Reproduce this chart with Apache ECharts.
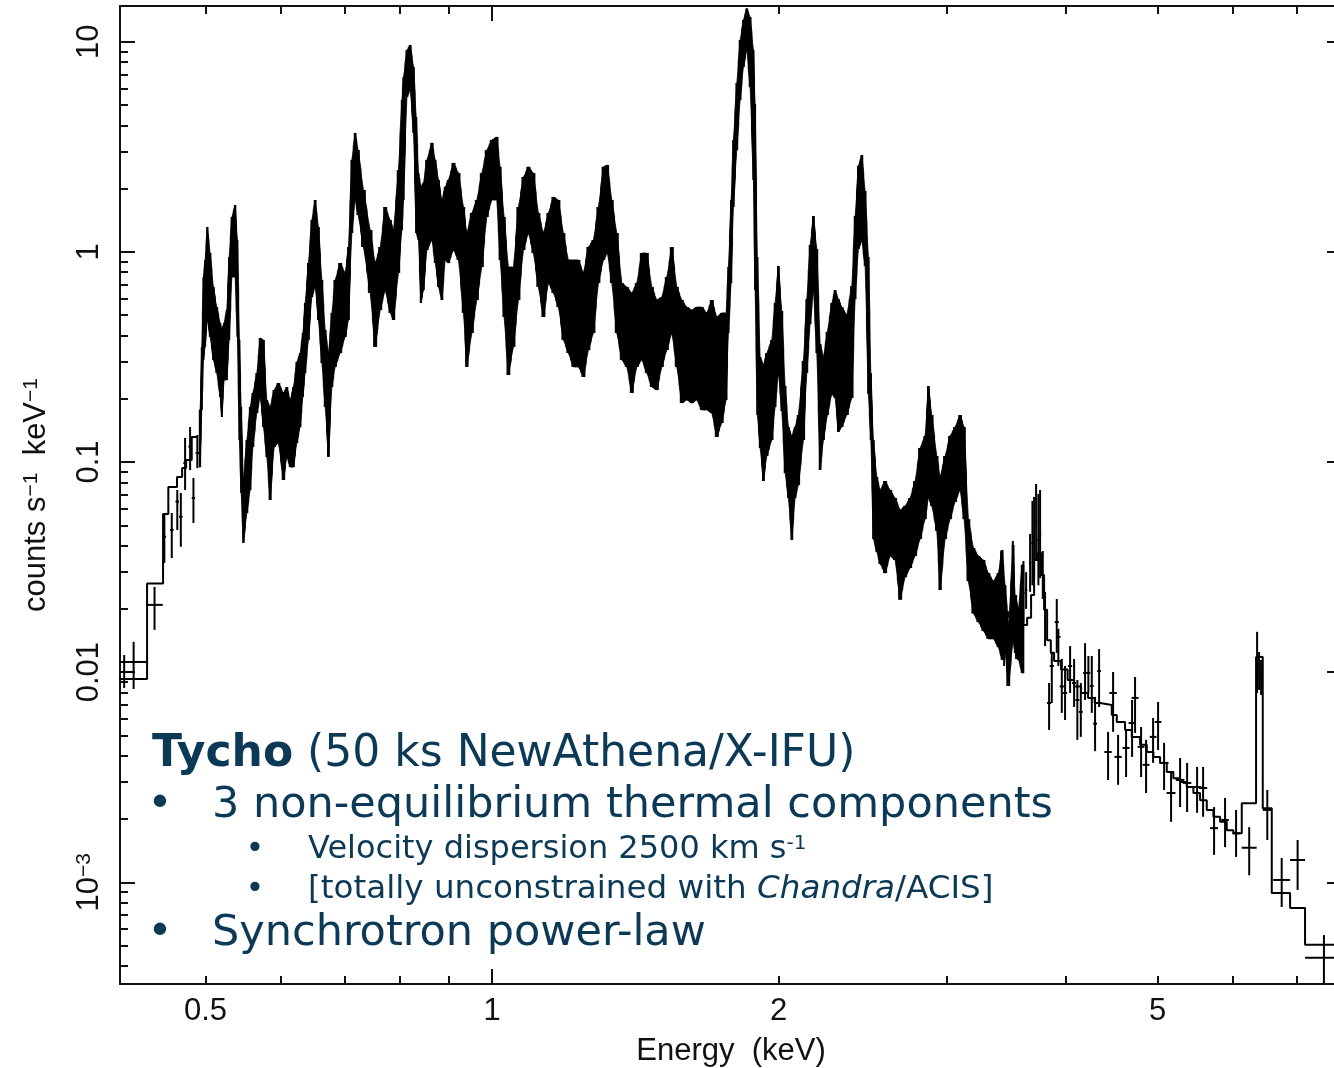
<!DOCTYPE html>
<html>
<head>
<meta charset="utf-8">
<script src="https://cdn.jsdelivr.net/npm/echarts@6/dist/echarts.min.js"></script>
<style>
  html, body { margin: 0; padding: 0; background: #ffffff; }
  #chart { width: 1334px; height: 1068px; }
</style>
</head>
<body>
<div id="chart"></div>
<script>
// ---- Axis ranges and tick marks ----
const energyRange = [0.40658, 7.81];          // keV
const countRange = [3.281e-4, 14.79];          // counts s^-1 keV^-1
const energyMajorTicks = [1];
const energyMinorTicks = [0.5, 0.6, 0.7, 0.8, 0.9, 2, 3, 4, 5, 6, 7];
const energyLabels = [0.5, 1, 2, 5];
const countDecades = [0.001, 0.01, 0.1, 1, 10];
const countMinorTicks = [
  0.0004, 0.0005, 0.0006, 0.0007, 0.0008, 0.0009,
  0.002, 0.003, 0.004, 0.005, 0.006, 0.007, 0.008, 0.009,
  0.02, 0.03, 0.04, 0.05, 0.06, 0.07, 0.08, 0.09,
  0.2, 0.3, 0.4, 0.5, 0.6, 0.7, 0.8, 0.9,
  2, 3, 4, 5, 6, 7, 8, 9
];

// ---- Densely binned spectrum: per-bin lower / upper error limits ----
const bandE = [
  0.4935, 0.4955, 0.4975, 0.4995, 0.5022, 0.5056, 0.5096, 0.5138, 0.518, 0.5201,
  0.523, 0.5264, 0.5294, 0.5329, 0.5371, 0.5401, 0.5427, 0.545, 0.548, 0.5526,
  0.557, 0.5607, 0.5661, 0.5706, 0.5752, 0.5799, 0.5846, 0.5903, 0.5964, 0.6037,
  0.6087, 0.6136, 0.6185, 0.6236, 0.6286, 0.6327, 0.6362, 0.6413, 0.6466, 0.6518,
  0.657, 0.6625, 0.6678, 0.6731, 0.6787, 0.6841, 0.6925, 0.7009, 0.7065, 0.7123,
  0.718, 0.7232, 0.7326, 0.7446, 0.7536, 0.7629, 0.7721, 0.7815, 0.7878, 0.7973,
  0.804, 0.8071, 0.8138, 0.8203, 0.8269, 0.8323, 0.8369, 0.8418, 0.8471, 0.8541,
  0.8645, 0.8714, 0.8784, 0.8856, 0.8927, 0.8998, 0.9108, 0.9219, 0.933, 0.9407,
  0.9521, 0.9637, 0.9754, 0.9872, 0.9993, 1.0114, 1.0195, 1.0294, 1.0401, 1.0529,
  1.0656, 1.0787, 1.0917, 1.105, 1.1183, 1.1321, 1.1458, 1.1598, 1.1738, 1.1881,
  1.2025, 1.2173, 1.232, 1.2471, 1.2622, 1.2776, 1.2931, 1.3089, 1.3215, 1.3357,
  1.3519, 1.3684, 1.385, 1.4019, 1.419, 1.4363, 1.4537, 1.4714, 1.4893, 1.5074,
  1.5257, 1.5443, 1.5631, 1.5821, 1.6013, 1.6208, 1.6405, 1.6605, 1.6807, 1.7011,
  1.7218, 1.7428, 1.761, 1.7708, 1.7825, 1.7924, 1.8072, 1.8217, 1.8363, 1.8514,
  1.8663, 1.8812, 1.8889, 1.8993, 1.912, 1.9273, 1.9432, 1.9668, 1.9825, 1.9984,
  2.015, 2.0311, 2.0473, 2.0643, 2.0808, 2.0974, 2.123, 2.1405, 2.1578, 2.1751,
  2.193, 2.2106, 2.2283, 2.2497, 2.274, 2.2921, 2.3104, 2.3297, 2.358, 2.3867,
  2.4058, 2.425, 2.4452, 2.4647, 2.4844, 2.499, 2.5148, 2.5355, 2.5558, 2.5867,
  2.6184, 2.65, 2.6825, 2.715, 2.7481, 2.7814, 2.8154, 2.8495, 2.8723, 2.8961,
  2.9313, 2.9549, 2.9907, 3.0272, 3.0638, 3.1013, 3.1314, 3.1639, 3.2027, 3.2415,
  3.2811, 3.3208, 3.3614, 3.4021, 3.433, 3.4577, 3.4867, 3.5254, 3.5423, 3.572,
  3.6032
];
const bandHi = [
  0.1768, 0.353, 0.759, 0.915, 1.313, 0.987, 0.681, 0.546, 0.459, 0.425,
  0.459, 0.529, 0.945, 1.465, 1.671, 1.139, 0.381, 0.1827, 0.0821, 0.1273,
  0.1827, 0.2131, 0.265, 0.389, 0.381, 0.1973, 0.1827, 0.2202, 0.2377, 0.2131,
  0.2274, 0.1973, 0.2274, 0.2994, 0.330, 0.411, 0.571, 0.885, 1.418, 1.765,
  1.313, 0.735, 0.425, 0.330, 0.512, 0.735, 0.885, 0.794, 1.055, 2.74,
  3.68, 3.05, 1.97, 1.27, 0.885, 1.055, 1.635, 1.418, 1.27, 2.45,
  5.28, 6.79, 9.13, 9.65, 7.58, 4.38, 2.37, 2.04, 2.13, 2.74,
  3.30, 2.74, 2.20, 1.765, 2.04, 2.20, 2.65, 2.37, 1.635, 1.229,
  1.531, 1.765, 2.37, 3.05, 3.41, 3.52, 2.54, 1.465, 0.847, 0.847,
  1.635, 2.27, 2.54, 2.37, 1.531, 1.229, 1.531, 1.824, 1.765, 1.229,
  0.915, 0.915, 0.915, 0.794, 1.055, 1.139, 1.635, 2.54, 2.59, 1.765,
  1.229, 0.711, 0.681, 0.637, 0.711, 0.987, 0.987, 0.681, 0.590, 0.609,
  0.759, 1.055, 0.681, 0.590, 0.546, 0.529, 0.546, 0.546, 0.512, 0.590,
  0.490, 0.512, 0.512, 0.847, 1.765, 3.41, 6.36, 10.19, 12.69, 14.4,
  13.1, 9.13, 5.05, 0.945, 0.316, 0.290, 0.330, 0.381, 0.571, 0.857,
  0.523, 0.230, 0.1468, 0.1331, 0.1468, 0.1674, 0.3027, 0.596, 1.078, 1.481,
  1.032, 0.3647, 0.316, 0.416, 0.571, 0.658, 0.596, 0.546, 0.501, 0.688,
  1.481, 2.565, 2.887, 1.949, 0.945, 0.265, 0.1273, 0.0848, 0.0736, 0.0812,
  0.0736, 0.0674, 0.0591, 0.0618, 0.0674, 0.0812, 0.1166, 0.1331, 0.230, 0.1674,
  0.1068, 0.0848, 0.1068, 0.1331, 0.1468, 0.1674, 0.1468, 0.0535, 0.0390, 0.0357,
  0.0342, 0.0296, 0.0271, 0.0296, 0.0381, 0.0259, 0.01676, 0.0403, 0.0233, 0.0200,
  0.0324
];
const bandLo = [
  0.0946, 0.1768, 0.306, 0.353, 0.474, 0.394, 0.306, 0.265, 0.204, 0.1637,
  0.2456, 0.2456, 0.381, 0.759, 0.759, 0.394, 0.1273, 0.0712, 0.0412, 0.0572,
  0.0736, 0.1179, 0.1711, 0.204, 0.1468, 0.1057, 0.066, 0.1179, 0.1232, 0.0821,
  0.1057, 0.0946, 0.0946, 0.1232, 0.1468, 0.204, 0.265, 0.381, 0.609, 0.681,
  0.474, 0.296, 0.1827, 0.1057, 0.2274, 0.2834, 0.330, 0.394, 0.474, 1.229,
  1.765, 1.498, 1.055, 0.637, 0.353, 0.529, 0.658, 0.512, 0.474, 0.794,
  1.27, 1.765, 5.45, 5.89, 3.68, 1.229, 1.139, 0.571, 0.658, 1.02,
  1.139, 0.885, 0.681, 0.590, 0.915, 0.885, 1.02, 0.915, 0.512, 0.2834,
  0.411, 0.590, 0.847, 1.465, 1.765, 1.765, 0.915, 0.490, 0.2594, 0.353,
  0.590, 1.02, 1.229, 0.987, 0.681, 0.490, 0.711, 0.637, 0.546, 0.381,
  0.330, 0.2834, 0.2834, 0.2538, 0.341, 0.411, 0.711, 0.915, 0.987, 0.711,
  0.411, 0.306, 0.2834, 0.2131, 0.2834, 0.306, 0.265, 0.2274, 0.2202, 0.2834,
  0.341, 0.411, 0.2834, 0.1909, 0.1973, 0.1909, 0.1973, 0.1768, 0.1768, 0.1711,
  0.1316, 0.1534, 0.1973, 0.411, 0.711, 1.635, 3.05, 5.28, 7.58, 9.13,
  6.08, 2.20, 0.658, 0.1674, 0.1166, 0.0812, 0.1068, 0.1273, 0.1827, 0.265,
  0.1749, 0.0886, 0.0674, 0.0426, 0.0674, 0.0777, 0.1273, 0.265, 0.454, 0.658,
  0.330, 0.0916, 0.1273, 0.1674, 0.2108, 0.2017, 0.139, 0.1468, 0.1674, 0.2017,
  0.596, 1.032, 1.127, 0.857, 0.2108, 0.1273, 0.0430, 0.0373, 0.0327, 0.0296,
  0.0357, 0.0342, 0.0221, 0.0283, 0.0313, 0.0357, 0.0430, 0.0535, 0.0674, 0.0618,
  0.0470, 0.0246, 0.0430, 0.0535, 0.0646, 0.0736, 0.0535, 0.0271, 0.0190, 0.0173,
  0.0157, 0.0144, 0.0144, 0.01315, 0.01143, 0.01234, 0.0086, 0.0142, 0.01234, 0.01143,
  0.00991
];

// ---- Individually resolved bins: centre, full bin width, value, error range ----
const crossE = [
  0.4107, 0.4202, 0.4420, 0.4526, 0.4608, 0.4670, 0.4710, 0.4759, 0.4817, 0.4856, 0.4902,
  3.4245, 3.4494, 3.4768, 3.5227, 3.551, 3.579, 3.6143, 3.638, 3.6733,
  3.694, 3.709, 3.727, 3.7475, 3.7632, 3.7877, 3.8087,
  3.846, 3.8711, 3.918, 3.9332, 3.9659, 3.9975, 4.0464, 4.0857, 4.118, 4.1525,
  4.1956, 4.2291, 4.2643, 4.2983, 4.3403,
  4.4357, 4.4898, 4.5443, 4.633, 4.7008, 4.7348, 4.8043, 4.8627, 4.9458, 5.0058,
  5.079, 5.1657, 5.2795, 5.3698, 5.5012, 5.5815, 5.7318, 5.8861, 6.045,
  6.24, 6.3602, 6.391, 6.4218, 6.519, 6.75, 7.015, 7.476
];
const crossW = [
  0.0217, 0.0272, 0.0177, 0.004, 0.004, 0.004, 0.004, 0.004, 0.004, 0.004, 0.004,
  0.02, 0.02, 0.02, 0.02, 0.02, 0.02, 0.02, 0.02, 0.02,
  0.02, 0.02, 0.02, 0.02, 0.02, 0.02, 0.02,
  0.04, 0.04, 0.04, 0.04, 0.04, 0.04, 0.04, 0.04, 0.04, 0.04,
  0.04, 0.04, 0.04, 0.04, 0.04,
  0.08, 0.08, 0.08, 0.08, 0.08, 0.08, 0.08, 0.08, 0.08, 0.08,
  0.11, 0.11, 0.11, 0.11, 0.11, 0.11, 0.11, 0.11, 0.11,
  0.226, 0.02, 0.02, 0.02, 0.142, 0.277, 0.254, 0.668
];
const crossV = [
  0.01002, 0.01118, 0.0209, 0.0441, 0.0475, 0.0648, 0.0549, 0.0989, 0.1183, 0.0674, 0.1104,
  0.0216, 0.0160, 0.0113, 0.02566, 0.01639, 0.01556, 0.0238, 0.0246, 0.0331,
  0.0412, 0.0440, 0.0519, 0.0426, 0.0455, 0.0290, 0.0179,
  0.00713, 0.0107, 0.0173, 0.01472, 0.00855, 0.00796, 0.0107, 0.00888, 0.00737, 0.00647,
  0.00991, 0.00991, 0.0086, 0.00569, 0.01013,
  0.00417, 0.00796, 0.00395, 0.00436, 0.00573, 0.00754, 0.00441, 0.00362, 0.00492, 0.00579,
  0.0037, 0.00266, 0.00307, 0.00297, 0.00284, 0.00281, 0.00181, 0.00198, 0.00171,
  0.00146, 0.01168, 0.01047, 0.00969, 0.00221, 0.001026, 0.001277, 0.000437
];
const crossLo = [
  0.00841, 0.00832, 0.0159, 0.0331, 0.0349, 0.0475, 0.0395, 0.0736, 0.0916, 0.0513, 0.0936,
  0.01234, 0.0107, 0.0086, 0.01556, 0.01155, 0.01234, 0.01657, 0.0200, 0.0241,
  0.0259, 0.0280, 0.0338, 0.0259, 0.0280, 0.0223, 0.0133,
  0.00531, 0.00713, 0.01234, 0.0107, 0.0064, 0.00592, 0.00796, 0.00683, 0.00476, 0.00492,
  0.00737, 0.00796, 0.0064, 0.00421, 0.00683,
  0.00307, 0.0052, 0.00291, 0.00317, 0.00395, 0.00514, 0.00317, 0.00266, 0.0037, 0.00426,
  0.00275, 0.00194, 0.00228, 0.00216, 0.00214, 0.00205, 0.00135, 0.00147, 0.00132,
  0.00108, 0.00796, 0.00823, 0.00779, 0.00159, 0.000763, 0.00092, 0.00033
];
const crossHi = [
  0.01207, 0.01394, 0.02546, 0.0572, 0.0572, 0.0736, 0.0712, 0.1302, 0.1468, 0.0839, 0.1345,
  0.0377, 0.0241, 0.01489, 0.0421, 0.0233, 0.01937, 0.0338, 0.0299, 0.0455,
  0.0653, 0.0682, 0.0786, 0.0704, 0.0736, 0.0377, 0.0241,
  0.00888, 0.01234, 0.0223, 0.0161, 0.01155, 0.0107, 0.0133, 0.01155, 0.00918, 0.00888,
  0.01374, 0.01194, 0.01194, 0.00762, 0.01287,
  0.0052, 0.01002, 0.00503, 0.00531, 0.00737, 0.00948, 0.00548, 0.00476, 0.00605, 0.00721,
  0.00461, 0.00331, 0.0039, 0.0037, 0.00354, 0.00354, 0.00228, 0.00252, 0.00221,
  0.00183, 0.01556, 0.01247, 0.01143, 0.00275, 0.001305, 0.00159, 0.000561
];

// ---- Folded model (histogram: lower bin edge, model value) ----
const modelLowE = [0.40, 0.4341, 0.4512, 0.457, 0.4667, 0.4725, 0.4771, 0.4836, 0.4896];
const modelLowV = [0.00928, 0.02643, 0.0566, 0.0760, 0.0848, 0.0936, 0.1022, 0.1316, 0.1316];
const modelHighE = [
  3.4021, 3.483, 3.5681, 3.647, 3.6821, 3.709, 3.745, 3.7722, 3.7997, 3.8276,
  3.8619, 3.8927, 3.9592, 4.0224, 4.0857, 4.1553, 4.2262, 4.2945, 4.3508, 4.4756,
  4.53, 4.6217, 4.6974, 4.7927, 4.8708, 4.9493, 5.0302, 5.1122, 5.1945, 5.2795,
  5.3656, 5.452, 5.5411, 5.6314, 5.7221, 5.8157, 5.9105, 6.0057, 6.1289, 6.3446,
  6.4479, 6.59, 6.8884, 7.1424, 8.0
];
const modelHighV = [
  0.0194, 0.01834, 0.01676, 0.01814, 0.0233, 0.0342, 0.0369, 0.029, 0.0198, 0.0142,
  0.01238, 0.0113, 0.01029, 0.00918, 0.00855, 0.00796, 0.00754, 0.00713, 0.00698, 0.00626,
  0.00579, 0.00531, 0.00492, 0.00451, 0.00417, 0.00395, 0.0037, 0.00335, 0.00313, 0.003,
  0.00284, 0.00266, 0.00246, 0.00221, 0.00205, 0.00194, 0.00177, 0.00171, 0.00238, 0.01181,
  0.00225, 0.00089, 0.000755, 0.000504, 0.000504
];

// ---- Styling ----
const noteColor = '#0c3a56';
const noteFont = 'DejaVu Sans';
const axisFont = 'Liberation Sans';
const ink = '#111111';

const chart = echarts.init(document.getElementById('chart'), null, { renderer: 'canvas' });

function energyAxis(position, ticks, tickLen, withLine, withLabels) {
  return {
    type: 'log', logBase: 10, position: position,
    min: energyRange[0], max: energyRange[1],
    axisLine: { show: withLine, onZero: false, lineStyle: { color: ink, width: 2 } },
    axisTick: { show: true, inside: true, length: tickLen, customValues: ticks,
                lineStyle: { color: ink, width: 2 } },
    axisLabel: withLabels ? {
      show: true, customValues: energyLabels, margin: 12,
      fontFamily: axisFont, fontSize: 31, color: ink,
      formatter: function (v) { return String(+v.toPrecision(3)); }
    } : { show: false },
    splitLine: { show: false }, minorTick: { show: false }
  };
}

function countAxis(position, ticks, tickLen, withLine, withLabels) {
  return {
    type: 'log', logBase: 10, position: position,
    min: countRange[0], max: countRange[1],
    axisLine: { show: withLine, onZero: false, lineStyle: { color: ink, width: 2 } },
    axisTick: { show: true, inside: true, length: tickLen, customValues: ticks,
                lineStyle: { color: ink, width: 2 } },
    axisLabel: withLabels ? {
      show: true, customValues: countDecades, margin: 15, rotate: 90,
      align: 'center', verticalAlign: 'bottom',
      fontFamily: axisFont, fontSize: 31, color: ink,
      formatter: function (v) {
        if (Math.abs(v - 0.001) < 1e-9) return '10{s|\u22123}';
        return String(+v.toPrecision(3));
      },
      rich: { s: { fontFamily: axisFont, fontSize: 21, color: ink, verticalAlign: 'top' } }
    } : { show: false },
    splitLine: { show: false }, minorTick: { show: false }
  };
}

const xAxes = [
  energyAxis('bottom', energyMajorTicks, 15, true, true),
  energyAxis('bottom', energyMinorTicks, 8, false, false),
  energyAxis('top', energyMajorTicks, 15, true, false),
  energyAxis('top', energyMinorTicks, 8, false, false)
];
xAxes[0].name = 'Energy  (keV)';
xAxes[0].nameLocation = 'middle';
xAxes[0].nameGap = 52;
xAxes[0].nameTextStyle = { fontFamily: axisFont, fontSize: 31, color: ink };

const yAxes = [
  countAxis('left', countDecades, 15, true, true),
  countAxis('left', countMinorTicks, 8, false, false),
  countAxis('right', countDecades, 15, true, false),
  countAxis('right', countMinorTicks, 8, false, false)
];
yAxes[0].name = 'counts s{s|\u22121}  keV{s|\u22121}';
yAxes[0].nameLocation = 'middle';
yAxes[0].nameRotate = 90;
yAxes[0].nameGap = 68;
yAxes[0].nameTextStyle = {
  fontFamily: axisFont, fontSize: 31, color: ink,
  rich: { s: { fontFamily: axisFont, fontSize: 21, color: ink, verticalAlign: 'top' } }
};

// filled error band: each bin is drawn as its own error bar plus a joint
// to the neighbouring bins so the dense band has no holes
function renderBand(params, api) {
  const i = params.dataIndex;
  const n = bandE.length;
  const pt = (k) => {
    const t = api.coord([bandE[k], bandHi[k]]);
    const b = api.coord([bandE[k], bandLo[k]]);
    return { x: t[0], t: t[1], b: b[1] };
  };
  const c = pt(i);
  const p = i > 0 ? pt(i - 1) : null;
  const q = i < n - 1 ? pt(i + 1) : null;
  const xl = p ? (p.x + c.x) / 2 - 0.3 : c.x - (q.x - c.x) / 2;
  const xr = q ? (q.x + c.x) / 2 + 0.3 : c.x + (c.x - p.x) / 2;
  const tl = p ? (p.t + c.t) / 2 : c.t, bl = p ? (p.b + c.b) / 2 : c.b;
  const tr = q ? (q.t + c.t) / 2 : c.t, br = q ? (q.b + c.b) / 2 : c.b;
  const half = Math.max(1, (xr - xl) * 0.36);
  const fillStyle = { fill: '#000000' };
  return {
    type: 'group',
    children: [
      {
        type: 'polygon',
        shape: { points: [[xl, tl], [c.x, c.t], [xr, tr], [xr, br], [c.x, c.b], [xl, bl]] },
        style: { fill: '#000000', stroke: '#000000', lineWidth: 0.8 }
      },
      {
        type: 'rect',
        shape: { x: c.x - half, y: c.t, width: 2 * half, height: c.b - c.t },
        style: fillStyle
      }
    ]
  };
}

// crosses: vertical error bar plus horizontal bin width
function renderCross(params, api) {
  const e = api.value(0), v = api.value(1), lo = api.value(2), hi = api.value(3), w = api.value(4);
  const c = api.coord([e, v]);
  const a = api.coord([e, lo]);
  const b = api.coord([e, hi]);
  const l = api.coord([e - w / 2, v]);
  const r = api.coord([e + w / 2, v]);
  const st = { stroke: '#000000', lineWidth: 2 };
  return {
    type: 'group',
    children: [
      { type: 'line', shape: { x1: c[0], y1: a[1], x2: c[0], y2: b[1] }, style: st },
      { type: 'line', shape: { x1: l[0], y1: c[1], x2: r[0], y2: c[1] }, style: st }
    ]
  };
}

const noteText = (x, y, text, size, rich) => ({
  type: 'text', x: x, y: y, z: 100,
  style: {
    text: text, fill: noteColor, fontFamily: noteFont, fontSize: size,
    textAlign: 'left', textVerticalAlign: 'middle', verticalAlign: 'middle',
    rich: rich || undefined
  }
});
const bullet = (x, y, size) => ({
  type: 'text', x: x, y: y, z: 100,
  style: {
    text: '\u2022', fill: noteColor, fontFamily: noteFont, fontSize: size,
    textAlign: 'center', textVerticalAlign: 'middle', verticalAlign: 'middle'
  }
});
const plain = (size, extra) => Object.assign(
  { fontFamily: noteFont, fontSize: size, fill: noteColor, color: noteColor }, extra || {});

const option = {
  animation: false,
  backgroundColor: '#ffffff',
  grid: { left: 120, top: 6, width: 1222, height: 978, containLabel: false, outerBoundsMode: 'none' },
  xAxis: xAxes,
  yAxis: yAxes,
  series: [
    {
      type: 'custom', name: 'band', clip: true,
      xAxisIndex: 0, yAxisIndex: 0,
      data: bandE.map((e, i) => [e, bandLo[i], bandHi[i]]),
      encode: { x: 0, y: [1, 2] },
      renderItem: renderBand
    },
    {
      type: 'custom', name: 'bins', clip: true,
      xAxisIndex: 0, yAxisIndex: 0,
      data: crossE.map((e, i) => [e, crossV[i], crossLo[i], crossHi[i], crossW[i]]),
      encode: { x: 0, y: [1, 2, 3] },
      renderItem: renderCross
    },
    {
      type: 'line', name: 'model low', step: 'end', symbol: 'none', clip: true,
      xAxisIndex: 0, yAxisIndex: 0,
      data: modelLowE.map((e, i) => [e, modelLowV[i]]),
      lineStyle: { color: '#000000', width: 2 }
    },
    {
      type: 'line', name: 'model high', step: 'end', symbol: 'none', clip: true,
      xAxisIndex: 0, yAxisIndex: 0,
      data: modelHighE.map((e, i) => [e, modelHighV[i]]),
      lineStyle: { color: '#000000', width: 2 }
    }
  ],
  graphic: [
    noteText(152, 755, '{b|Tycho}{n| (50 ks NewAthena/X-IFU)}', 44, {
      b: plain(44, { fontWeight: 'bold' }),
      n: plain(44)
    }),
    bullet(160, 806, 43),
    noteText(212, 806, '3 non-equilibrium thermal components', 43),
    bullet(255, 850, 32),
    noteText(308, 850, '{n|Velocity dispersion 2500 km s}{s|-1}', 32, {
      n: plain(32),
      s: plain(20, { verticalAlign: 'top' })
    }),
    bullet(255, 890, 32),
    noteText(308, 890, '{n|[totally unconstrained with }{i|Chandra}{n|/ACIS]}', 32.6, {
      n: plain(32.6),
      i: plain(32.6, { fontStyle: 'italic' })
    }),
    bullet(160, 934, 43),
    noteText(212, 934, 'Synchrotron power-law', 43)
  ]
};

chart.setOption(option);
</script>
</body>
</html>
